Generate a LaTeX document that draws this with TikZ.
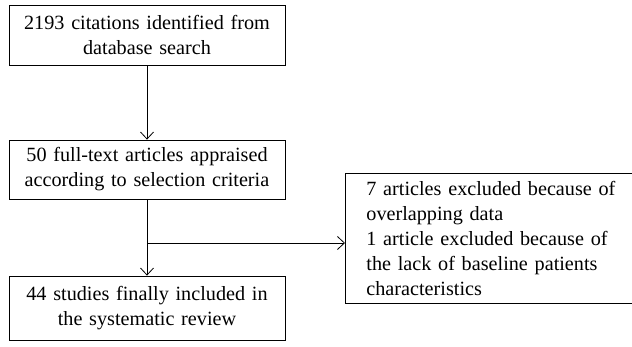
\documentclass[tikz,border=0pt]{standalone}
\usepackage{fontspec}
\setmainfont{Liberation Serif}
\usetikzlibrary{arrows.meta}

\begin{document}
\begin{tikzpicture}[x=1pt,y=-1pt]
	% Einstellungen für die Kästchen
	\tikzset{box/.style={
			draw=black, % Schwarze Linie für die Umrandung
			line width=0.8pt, % Strichstärke
			text width=276pt, % Breite der Kästchen
			minimum height=60pt, % Minimale Höhe der Kästchen
			inner sep=0pt, % Kein Innenabstand
			font=\fontsize{20.2}{25}\selectfont, % Schriftgröße
			align=center % Text zentrieren
		},
		pfeil/.style={
			-{Straight Barb[length=7pt,width=13pt]}, % Offene Pfeilspitze
			line width=0.8pt % Strichstärke
		}}
	
	\useasboundingbox (0,0) rectangle (632,347); % Rand festlegen
	
	% Kästchen links
	\node[box] (suche) at (147,35) {2193 citations identified from\\database search};
	\node[box, minimum height=59pt] (volltext) at (147,169.5) {50 full-text articles appraised\\according to selection criteria};
	\node[box, minimum height=64pt] (studien) at (147,308) {44 studies finally included in\\the systematic review};
	
	% Kästchen rechts (ragt über den Rand)
	\node[box, anchor=north west, text width=270pt, minimum width=312pt, minimum height=130pt, align=left] (ausschluss) at (345,173) {7 articles excluded because of\\overlapping data\\1 article excluded because of\\the lack of baseline patients\\characteristics};
	
	% Pfeile
	\draw[pfeil] (suche) -- (volltext);
	\draw[pfeil] (volltext) -- (studien);
	\coordinate (abzweig) at (147,243); % Abzweigung nach rechts
	\draw[pfeil] (abzweig) -- (abzweig -| ausschluss.west);
\end{tikzpicture}
\end{document}
